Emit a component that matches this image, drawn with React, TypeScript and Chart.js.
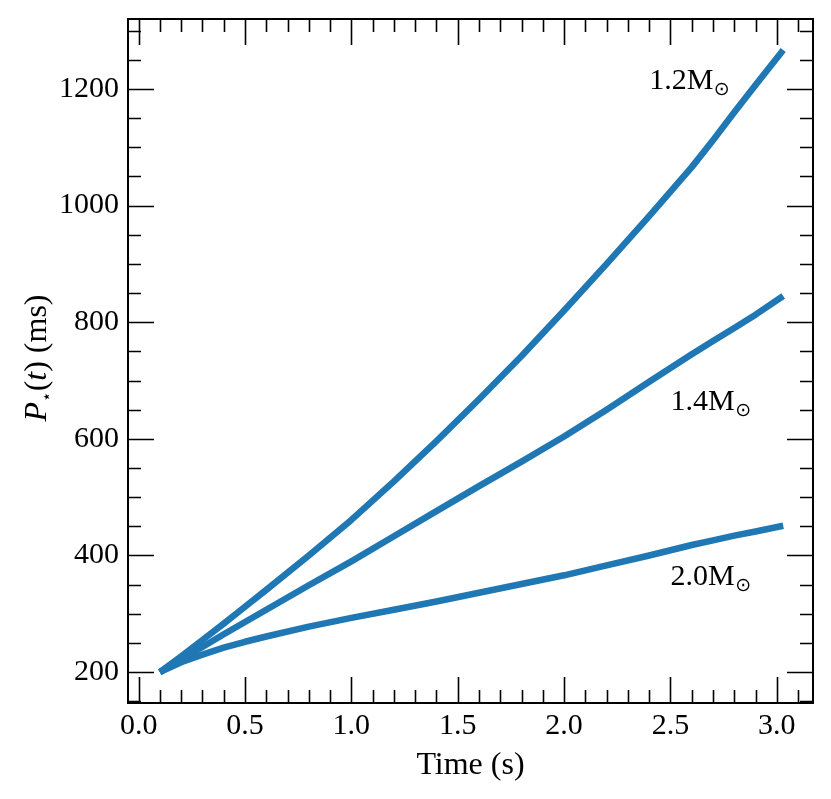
import React, { useEffect, useRef } from "react";
import { Chart, registerables } from "chart.js";

Chart.register(...registerables);

// ---- data ----
const times = [0.1, 0.2, 0.3, 0.4, 0.5, 0.6, 0.8, 1.0, 1.2, 1.4, 1.6, 1.8, 2.0, 2.2, 2.4, 2.6, 2.7, 2.8, 2.9, 3.03];
const period12 = [200, 227, 255, 283, 312, 341, 400, 461, 527, 596, 668, 742, 820, 900, 982, 1066, 1112, 1160, 1207, 1267];
const period14 = [200, 222, 243, 265, 286, 307, 349, 390, 433, 476, 519, 561, 604, 650, 698, 745, 768, 790, 813, 845];
const period20 = [200, 217, 230, 242, 252, 261, 278, 293, 307, 321, 336, 351, 366, 383, 400, 418, 426, 434, 441, 451];
const massLabels = ["1.2", "1.4", "2.0"];
const labelX = [2.4, 2.5, 2.5];
const labelY = [1200, 650, 350];
const xTicks = [0, 0.5, 1.0, 1.5, 2.0, 2.5, 3.0];
const yTicks = [200, 400, 600, 800, 1000, 1200];
const xRange = [-0.05, 3.17];
const yRange = [147, 1320];

const LINE_COLOR = "#1f77b4";
const SERIF = "'Liberation Serif', 'Times New Roman', serif";
const SYM = "'DejaVu Sans', sans-serif";

const decorPlugin = {
  id: "decor",
  afterDatasetsDraw(chart: any) {
    const { ctx, scales } = chart;
    const x = scales.x;
    const y = scales.y;
    ctx.save();
    ctx.fillStyle = "#000";
    ctx.textBaseline = "alphabetic";
    ctx.textAlign = "left";
    for (let i = 0; i < massLabels.length; i++) {
      const px = x.getPixelForValue(labelX[i]);
      const py = y.getPixelForValue(labelY[i]);
      ctx.font = `30px ${SERIF}`;
      const main = massLabels[i] + "M";
      ctx.fillText(main, px, py);
      const w = ctx.measureText(main).width;
      ctx.font = `19px ${SYM}`;
      ctx.fillText("\u2299", px + w + 0.5, py + 6);
    }
    ctx.restore();
  },
  afterDraw(chart: any) {
    const { ctx, chartArea: a, scales } = chart;
    const x = scales.x;
    const y = scales.y;
    ctx.save();
    ctx.strokeStyle = "#000";
    ctx.lineCap = "butt";
    ctx.lineWidth = 1.6;
    const MAJ = 26;
    const MIN = 13;
    const kx0 = Math.ceil(x.min * 10 - 1e-6);
    const kx1 = Math.floor(x.max * 10 + 1e-6);
    ctx.beginPath();
    for (let k = kx0; k <= kx1; k++) {
      const px = Math.round(x.getPixelForValue(k / 10)) + 0.5;
      const len = k % 5 === 0 ? MAJ : MIN;
      ctx.moveTo(px, a.bottom);
      ctx.lineTo(px, a.bottom - len);
      ctx.moveTo(px, a.top);
      ctx.lineTo(px, a.top + len);
    }
    const ky0 = Math.ceil(y.min / 50 - 1e-6);
    const ky1 = Math.floor(y.max / 50 + 1e-6);
    for (let k = ky0; k <= ky1; k++) {
      const py = Math.round(y.getPixelForValue(k * 50)) + 0.5;
      const len = k % 4 === 0 ? MAJ : MIN;
      ctx.moveTo(a.left, py);
      ctx.lineTo(a.left + len, py);
      ctx.moveTo(a.right, py);
      ctx.lineTo(a.right - len, py);
    }
    ctx.stroke();
    ctx.lineWidth = 2;
    ctx.strokeRect(a.left, a.top, a.right - a.left, a.bottom - a.top);

    // x title
    ctx.fillStyle = "#000";
    ctx.font = `32px ${SERIF}`;
    ctx.textAlign = "center";
    ctx.textBaseline = "alphabetic";
    ctx.fillText("Time (s)", (a.left + a.right) / 2, 774);

    // y title: P_*(t) (ms)
    const parts: [string, string, number][] = [
      ["P", `italic 32px ${SERIF}`, 0],
      ["\u22C6", `17px ${SYM}`, 6],
      ["(", `32px ${SERIF}`, 0],
      ["t", `italic 32px ${SERIF}`, 0],
      [")", `32px ${SERIF}`, 0],
      [" (ms)", `32px ${SERIF}`, 0],
    ];
    let total = 0;
    const widths: number[] = [];
    for (const [t, f] of parts) {
      ctx.font = f;
      const w = ctx.measureText(t).width;
      widths.push(w);
      total += w;
    }
    ctx.translate(46, 358);
    ctx.rotate(-Math.PI / 2);
    ctx.textAlign = "left";
    let cx = -total / 2;
    parts.forEach(([t, f, dy], i) => {
      ctx.font = f;
      ctx.fillText(t, cx, dy);
      cx += widths[i];
    });
    ctx.restore();
  },
};

export default function App() {
  const ref = useRef<HTMLCanvasElement | null>(null);
  useEffect(() => {
    document.body.style.margin = "0";
    if (!ref.current) return;
    const mk = (vals: number[]) => times.map((t, i) => ({ x: t, y: vals[i] }));
    const chart = new Chart(ref.current, {
      type: "line",
      data: {
        datasets: [period12, period14, period20].map((vals, i) => ({
          label: massLabels[i] + " Msun",
          data: mk(vals),
          borderColor: LINE_COLOR,
          backgroundColor: LINE_COLOR,
          borderWidth: 6.5,
          pointRadius: 0,
          tension: 0,
          borderCapStyle: "butt" as const,
          borderJoinStyle: "round" as const,
          fill: false,
        })),
      },
      options: {
        animation: false,
        responsive: true,
        maintainAspectRatio: false,
        events: [],
        layout: { padding: { left: 0, right: 18, top: 8, bottom: 0 } },
        plugins: { legend: { display: false }, tooltip: { enabled: false }, title: { display: false } },
        scales: {
          x: {
            type: "linear",
            min: xRange[0],
            max: xRange[1],
            grid: { display: false },
            border: { display: false },
            afterBuildTicks: (s: any) => {
              s.ticks = xTicks.map((v) => ({ value: v }));
            },
            afterFit: (s: any) => {
              s.height = 96;
            },
            ticks: {
              color: "#000",
              font: { family: SERIF, size: 30 },
              padding: -3,
              maxRotation: 0,
              autoSkip: false,
              callback: (v: any) => Number(v).toFixed(1),
            },
          },
          y: {
            type: "linear",
            min: yRange[0],
            max: yRange[1],
            grid: { display: false },
            border: { display: false },
            afterBuildTicks: (s: any) => {
              s.ticks = yTicks.map((v) => ({ value: v }));
            },
            afterFit: (s: any) => {
              s.width = 128;
            },
            ticks: {
              color: "#000",
              font: { family: SERIF, size: 30 },
              padding: 1,
              autoSkip: false,
              callback: (v: any) => String(v),
            },
          },
        },
      },
      plugins: [decorPlugin],
    });
    return () => chart.destroy();
  }, []);
  return (
    <div style={{ width: 831, height: 799, position: "relative" }}>
      <canvas ref={ref} />
    </div>
  );
}
